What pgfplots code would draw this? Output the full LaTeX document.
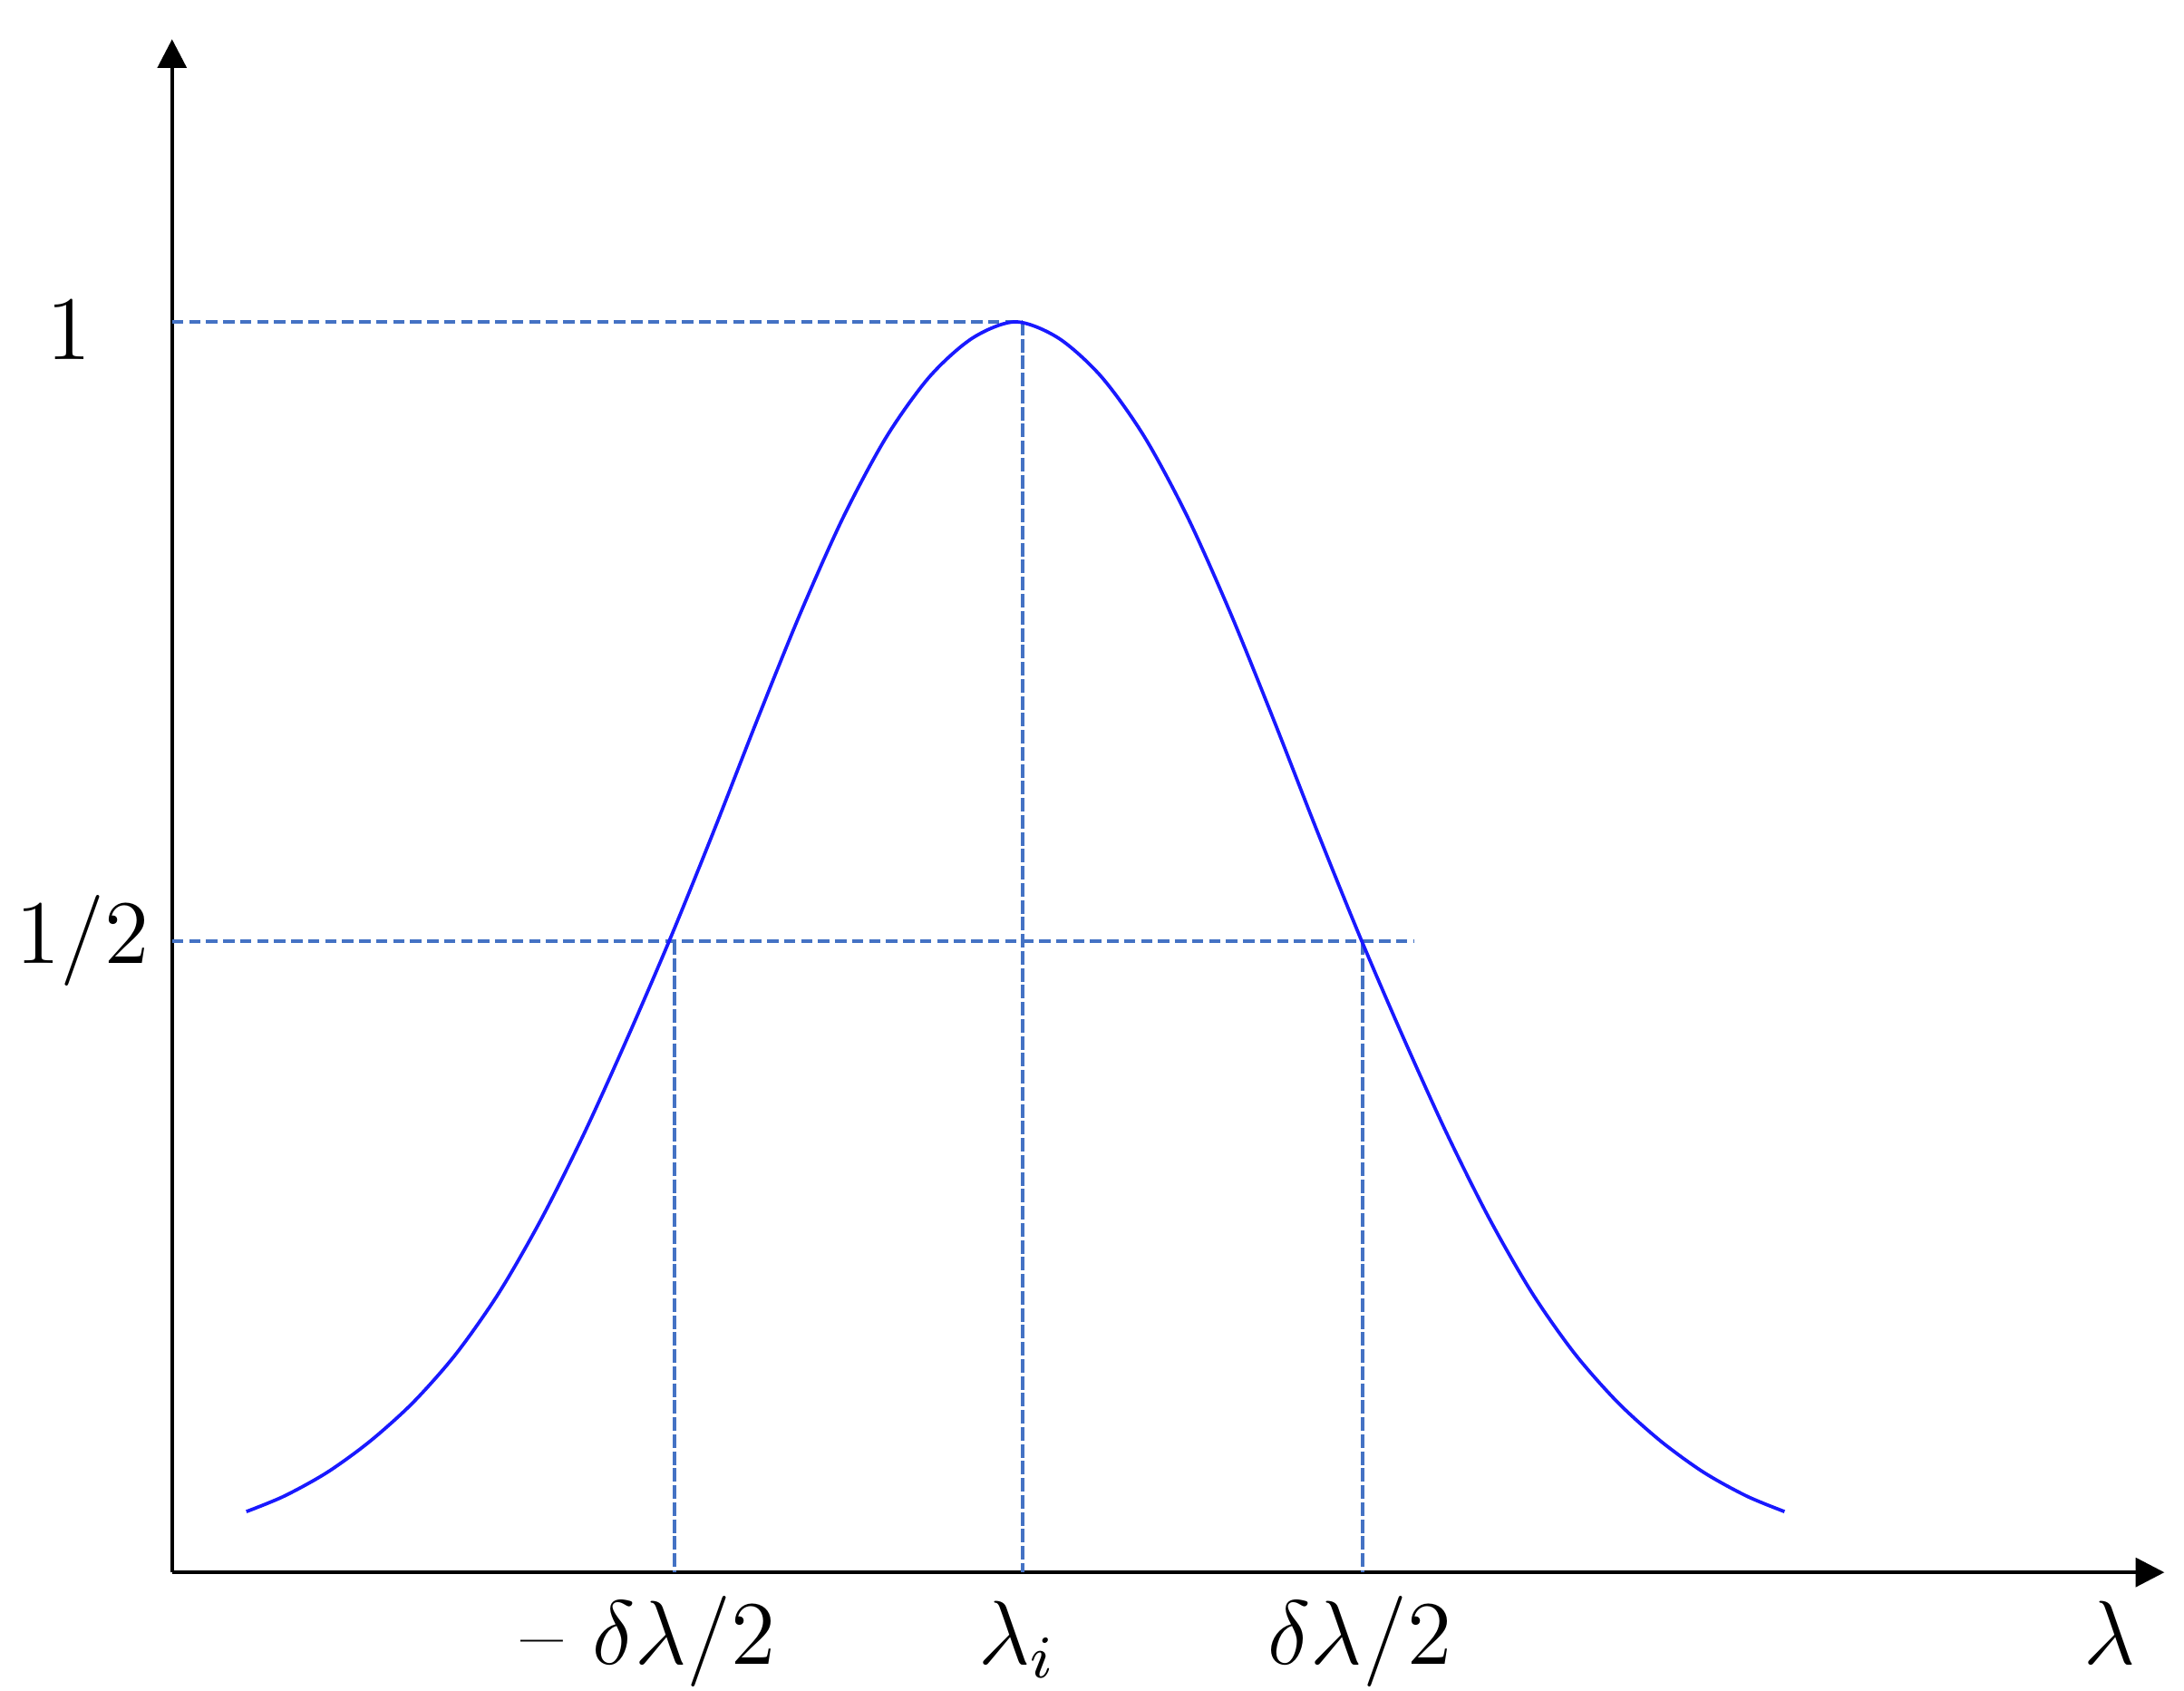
\documentclass[border=0pt]{standalone}
\usepackage{pgfplots}
\pgfplotsset{compat=1.18}
\usetikzlibrary{arrows.meta}
\definecolor{curveblue}{RGB}{25,25,255}
\definecolor{guideblue}{RGB}{68,114,196}
\begin{document}
\begin{tikzpicture}[lab/.style={font=\fontsize{11.5}{14}\selectfont, inner sep=0pt}]
\begin{axis}[
  x=45.54pt, y=165.48pt,
  xmin=-2.472, xmax=3.318, ymin=0, ymax=1.226,
  axis lines=left,
  axis line style={line width=0.5pt, -{Triangle[length=3.8pt,width=3.8pt]}},
  xtick=\empty, ytick=\empty,
  clip=false,
  hguide/.style={guideblue, line width=0.4pt, dash pattern=on 1.5pt off 0.75pt},
  vguide/.style={guideblue, line width=0.4pt, dash pattern=on 1.8pt off 0.45pt},
]
% frame the page like the reference
\path (axis cs:-2.972,-0.0943) rectangle (axis cs:3.375,1.2574);

% guide lines
\addplot[hguide] coordinates {(-2.472,1) (0,1)};
\addplot[hguide] coordinates {(-2.472,0.5047) (1.139,0.5047)};
\addplot[vguide] coordinates {(0,1) (0,0)};
\addplot[vguide] coordinates {(-1.012,0.5047) (-1.012,0)};
\addplot[vguide] coordinates {(0.988,0.5047) (0.988,0)};

% line profile
\addplot[curveblue, line width=0.45pt, smooth] coordinates {
(-2.256,0.0486) (-2.146,0.061) (-2.021,0.080) (-1.896,0.105)
(-1.771,0.136) (-1.646,0.175) (-1.521,0.224) (-1.396,0.284)
(-1.271,0.353) (-1.146,0.429) (-1.021,0.509) (-0.896,0.594)
(-0.771,0.682) (-0.646,0.767) (-0.521,0.844) (-0.396,0.908)
(-0.271,0.956) (-0.146,0.987) (-0.021,1.000)
(0.104,0.987) (0.229,0.956) (0.354,0.908) (0.479,0.844)
(0.604,0.767) (0.729,0.682) (0.854,0.594) (0.979,0.509)
(1.104,0.429) (1.229,0.353) (1.354,0.284) (1.479,0.224)
(1.604,0.175) (1.729,0.136) (1.854,0.105) (1.979,0.080)
(2.104,0.061) (2.214,0.0486)
};

% labels
\node[lab] at (axis cs:-2.772,0.993) {$1$};
\node[lab] at (axis cs:-2.733,0.5054) {$1/2$};
\node[lab, anchor=base] at (axis cs:-1.088,-0.0732) {\textendash\ $\delta\lambda/2$};
\node[lab, anchor=base] at (axis cs:-0.016,-0.0732) {$\lambda_i$};
\node[lab, anchor=base] at (axis cs:0.980,-0.0732) {$\delta\lambda/2$};
\node[lab, anchor=base] at (axis cs:3.159,-0.0732) {$\lambda$};
\end{axis}
\end{tikzpicture}
\end{document}
